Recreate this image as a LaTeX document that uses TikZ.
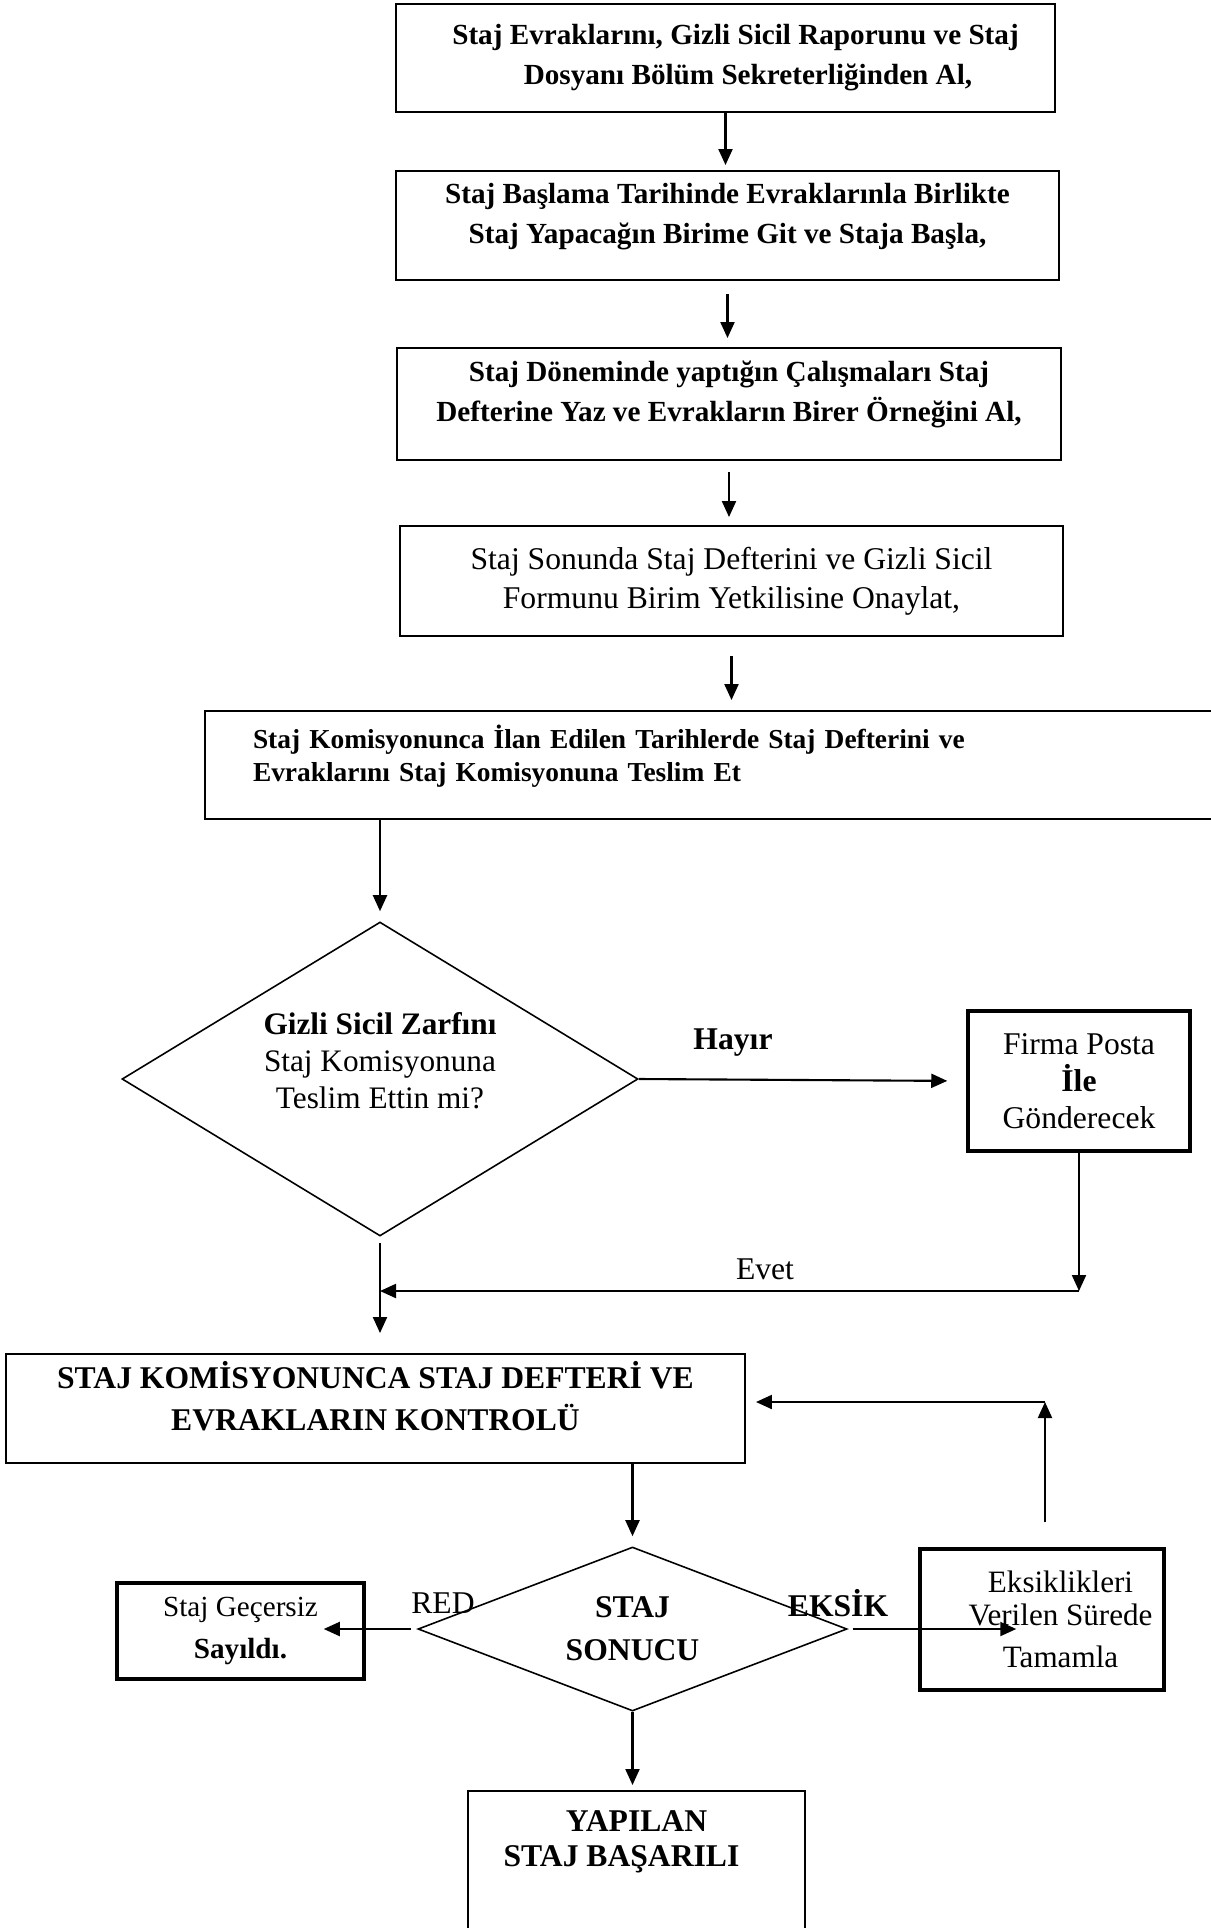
\documentclass[tikz,border=0pt]{standalone}
\usepackage{fontspec}
\setmainfont{Liberation Serif}
\usetikzlibrary{shapes.geometric,arrows.meta,positioning}

\tikzset{
    stepbox/.style={draw, line width=1.1pt, align=center, inner sep=2pt},
    heavybox/.style={draw, line width=2pt, align=center, inner sep=2pt},
    decision/.style={draw, diamond, line width=0.9pt, align=center, inner sep=0pt},
    arr/.style={-{Stealth[length=3.2mm,width=2.8mm,inset=0pt]}, line width=1.2pt},
    boldtxt/.style={font=\fontsize{16.6}{22.7}\selectfont\bfseries},
    plaintxt/.style={font=\fontsize{18}{22}\selectfont},
    lbl/.style={font=\fontsize{18}{22}\selectfont, inner sep=0pt}
}

\begin{document}
\begin{tikzpicture}
    \useasboundingbox (0,0) rectangle (24.22,-38.56);

    % Steps before submission
    \node[stepbox, boldtxt, minimum width=13.18cm, minimum height=2.16cm] (evrak) at (14.51,-1.16)
        {\hspace*{0.4cm}Staj Evraklarını, Gizli Sicil Raporunu ve Staj\\\hspace*{0.9cm}Dosyanı Bölüm Sekreterliğinden Al,};
    \node[stepbox, boldtxt, minimum width=13.26cm, minimum height=2.18cm] (basla) at (14.55,-4.51)
        {Staj Başlama Tarihinde Evraklarınla Birlikte\\Staj Yapacağın Birime Git ve Staja Başla,\\[-0.3cm]\mbox{}};
    \node[stepbox, boldtxt, minimum width=13.28cm, minimum height=2.24cm] (defter) at (14.58,-8.08)
        {Staj Döneminde yaptığın Çalışmaları Staj\\Defterine Yaz ve Evrakların Birer Örneğini Al,\\[-0.3cm]\mbox{}};
    \node[stepbox, plaintxt, minimum width=13.26cm, minimum height=2.2cm] (onay) at (14.63,-11.62)
        {Staj Sonunda Staj Defterini ve Gizli Sicil\\Formunu Birim Yetkilisine Onaylat,};
    \node[stepbox, font=\fontsize{15.6}{19}\selectfont\bfseries, align=left, inner xsep=0.96cm,
        text width=18.68cm, minimum height=2.16cm] (teslim) at (14.40,-15.30)
        {Staj Komisyonunca İlan Edilen Tarihlerde Staj Defterini ve\\Evraklarını Staj Komisyonuna Teslim Et\\[-0.2cm]\mbox{}};

    % Envelope check
    \node[decision, aspect=1.64, font=\fontsize{17.8}{21}\selectfont, minimum width=10.32cm, minimum height=6.28cm] (zarf) at (7.6,-21.58)
        {\textbf{Gizli Sicil Zarfını}\\Staj Komisyonuna\\Teslim Ettin mi?\\\mbox{}};
    \node[heavybox, font=\fontsize{18}{21}\selectfont, minimum width=4.44cm, minimum height=2.8cm] (posta) at (21.58,-21.62)
        {Firma Posta\\\textbf{İle}\\Gönderecek};
    \node[lbl, font=\fontsize{18}{22}\selectfont\bfseries] (hayir) at (14.66,-20.86) {Hayır};
    \node[lbl] (evetlbl) at (15.3,-25.38) {Evet};
    \coordinate (evet) at (7.6,-25.82);

    % Commission control
    \node[stepbox, font=\fontsize{18}{23.8}\selectfont\bfseries, minimum width=14.78cm, minimum height=2.18cm] (kontrol) at (7.51,-28.17)
        {STAJ KOMİSYONUNCA STAJ DEFTERİ VE\\EVRAKLARIN KONTROLÜ\\[-0.35cm]\mbox{}};
    \node[decision, aspect=2.6, font=\fontsize{18}{24.4}\selectfont\bfseries, minimum width=8.58cm, minimum height=3.28cm] (sonuc) at (12.65,-32.58)
        {STAJ\\SONUCU};
    \node[heavybox, font=\fontsize{16.6}{23.8}\selectfont, minimum width=4.94cm, minimum height=1.92cm] (gecersiz) at (4.81,-32.62)
        {Staj Geçersiz\\\textbf{Sayıldı.}};
    \node[heavybox, font=\fontsize{17.7}{19}\selectfont, minimum width=4.88cm, minimum height=2.82cm] (eksik) at (20.84,-32.39)
        {\hspace*{0.74cm}Eksiklikleri\\\hspace*{0.74cm}Verilen Sürede\\[5pt]\hspace*{0.74cm}Tamamla};
    \node[stepbox, font=\fontsize{18}{19.8}\selectfont\bfseries, anchor=north, minimum width=6.74cm,
        inner ysep=0.4cm] (basarili) at (12.73,-35.8)
        {YAPILAN\\\hspace*{-0.6cm}STAJ BAŞARILI\\\rule{0pt}{2cm}};
    \node[lbl] (red) at (8.86,-32.06) {RED};
    \node[lbl, font=\fontsize{18}{22}\selectfont\bfseries] (eksiklbl) at (16.76,-32.06) {EKSİK};
    \coordinate (geri) at (20.9,-28.04);

    % Arrows
    \draw[arr, shorten >=0.1cm] (evrak.south) -- (evrak.south |- basla.north);
    \draw[arr, shorten <=0.26cm, shorten >=0.18cm] (basla.south) -- (basla.south |- defter.north);
    \draw[arr, shorten <=0.22cm, shorten >=0.16cm] (defter.south) -- (defter.south |- onay.north);
    \draw[arr, shorten <=0.38cm, shorten >=0.2cm] (onay.south) -- (onay.south |- teslim.north);
    \draw[arr, shorten >=0.2cm] (zarf.north |- teslim.south) -- (zarf.north);
    \draw[arr, shorten >=0.38cm] (zarf.east) -- (posta.west);
    \draw[arr] (posta.south) -- (posta.south |- evet);
    \draw[arr] (posta.south |- evet) -- (evet);
    \draw[arr, shorten <=0.12cm, shorten >=0.4cm] (zarf.south) -- (zarf.south |- kontrol.north);
    \draw[arr, shorten >=0.2cm] (sonuc.north |- kontrol.south) -- (sonuc.north);
    \draw[arr, shorten <=0.12cm, shorten >=-0.84cm] (sonuc.west) -- (sonuc.west -| gecersiz.east);
    \draw[arr, shorten <=0.1cm, shorten >=-1.96cm] (sonuc.east) -- (sonuc.east -| eksik.west);
    \draw[arr, shorten <=0.5cm] (geri |- eksik.north) -- (geri);
    \draw[arr, shorten >=0.2cm] (geri) -- (geri -| kontrol.east);
    \draw[arr, shorten >=0.1cm] (sonuc.south) -- (sonuc.south |- basarili.north);
\end{tikzpicture}
\end{document}
